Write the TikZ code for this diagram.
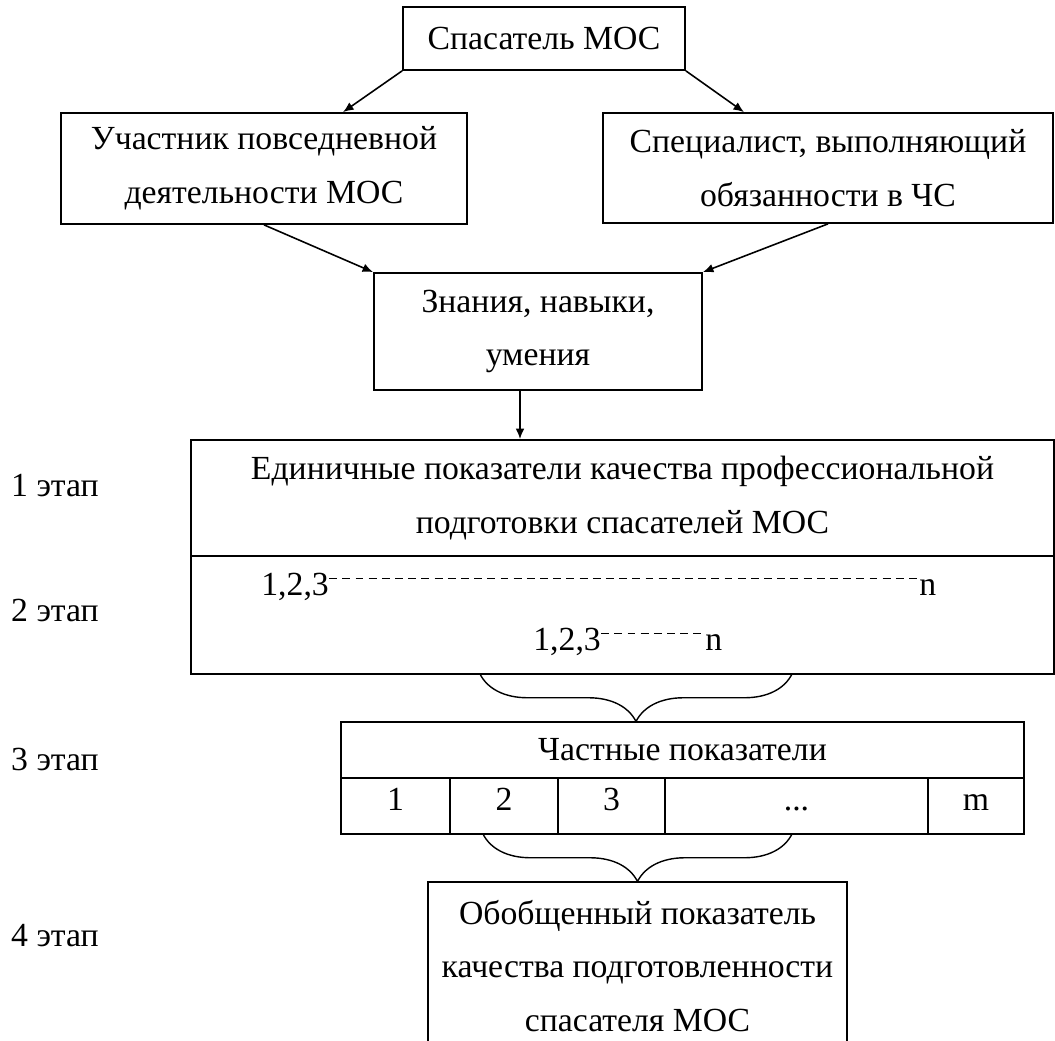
\documentclass[tikz,border=0pt]{standalone}
\usepackage{fontspec}
\setmainfont{Liberation Serif}
\usepackage{tikz}
\usetikzlibrary{arrows.meta, decorations.pathreplacing}

\begin{document}
\begin{tikzpicture}[
  box/.style = {draw, line width = 1pt, align = center, inner sep = 0pt},
  cell/.style = {box, minimum height = 1.12cm, text height = 1.45ex, text depth = 0.3ex},
  arr/.style = {line width = 0.9pt, -{Latex[length = 6pt, width = 5pt]}},
  brc/.style = {line width = 0.8pt, decorate, decoration = {brace, amplitude = 0.95cm}},
  dashes/.style = {line width = 0.6pt, dash pattern = on 4.5pt off 3pt},
  font = \fontsize{19.2}{30.5}\selectfont
]
\useasboundingbox (0,0) rectangle (21.1,-20.82);

\node[box, minimum width = 5.64cm, minimum height = 1.26cm] (rescuer) at (10.88,-0.77) {Спасатель МОС};
\node[box, minimum width = 8.12cm, minimum height = 2.22cm] (daily) at (5.28,-3.37) {Участник повседневной\\деятельности МОС};
\node[box, minimum width = 9.0cm, minimum height = 2.2cm] (spec) at (16.56,-3.36) {Специалист, выполняющий\\обязанности в ЧС};
\node[box, minimum width = 6.56cm, minimum height = 2.34cm] (know) at (10.76,-6.63) {Знания, навыки,\\умения};

\node[box, minimum width = 17.26cm, minimum height = 2.32cm] (unit) at (12.45,-9.96) {Единичные показатели качества профессиональной\\подготовки спасателей МОС};
\node[box, minimum width = 17.26cm, minimum height = 2.36cm] (steps) at (12.45,-12.30) {};
\node[inner sep = 0pt, anchor = base west] (r1a) at (5.22,-11.9) {1,2,3};
\node[inner sep = 0pt, anchor = base west] (r1b) at (18.38,-11.9) {n};
\node[inner sep = 0pt, anchor = base west] (r2a) at (10.66,-13.0) {1,2,3};
\node[inner sep = 0pt, anchor = base west] (r2b) at (14.1,-13.0) {n};

\node[box, minimum width = 13.66cm, minimum height = 1.12cm] (partial) at (13.65,-15.0) {Частные показатели};
\node[cell, minimum width = 2.18cm] (c1) at (7.91,-16.12) {1};
\node[cell, minimum width = 2.16cm] (c2) at (10.08,-16.12) {2};
\node[cell, minimum width = 2.14cm] (c3) at (12.23,-16.12) {3};
\node[cell, minimum width = 5.26cm] (c4) at (15.93,-16.12) {...};
\node[cell, minimum width = 1.92cm] (c5) at (19.52,-16.12) {m};

\node[box, minimum width = 8.38cm, minimum height = 3.36cm] (total) at (12.75,-19.32) {Обобщенный показатель\\качества подготовленности\\спасателя МОС};

\node[anchor = west] (st1) at (0.1,-9.72) {1 этап};
\node[anchor = west] (st2) at (0.1,-12.2) {2 этап};
\node[anchor = west] (st3) at (0.1,-15.18) {3 этап};
\node[anchor = west] (st4) at (0.1,-18.72) {4 этап};

\coordinate (xl) at (6.86,0);
\coordinate (xr) at (14.88,0);
\coordinate (xd) at (10.4,0);
\coordinate (b1r) at (15.84,-13.48);
\coordinate (b1l) at (9.6,-13.48);
\coordinate (b2r) at (15.84,-16.68);
\coordinate (b2l) at (9.66,-16.68);

\draw[arr] (rescuer.south west) -- (daily.north -| xl);
\draw[arr] (rescuer.south east) -- (spec.north -| xr);
\draw[arr] (daily.south) -- (know.north west);
\draw[arr] (spec.south) -- (know.north east);
\draw[arr] (know.south -| xd) -- (unit.north -| xd);

\draw[dashes] (r1a.east |- r1b.north) -- (r1b.north west);
\draw[dashes] (r2a.east |- r2b.north) -- (r2b.north west);

\draw[brc] (b1r) -- (b1l);
\draw[brc] (b2r) -- (b2l);
\end{tikzpicture}
\end{document}
